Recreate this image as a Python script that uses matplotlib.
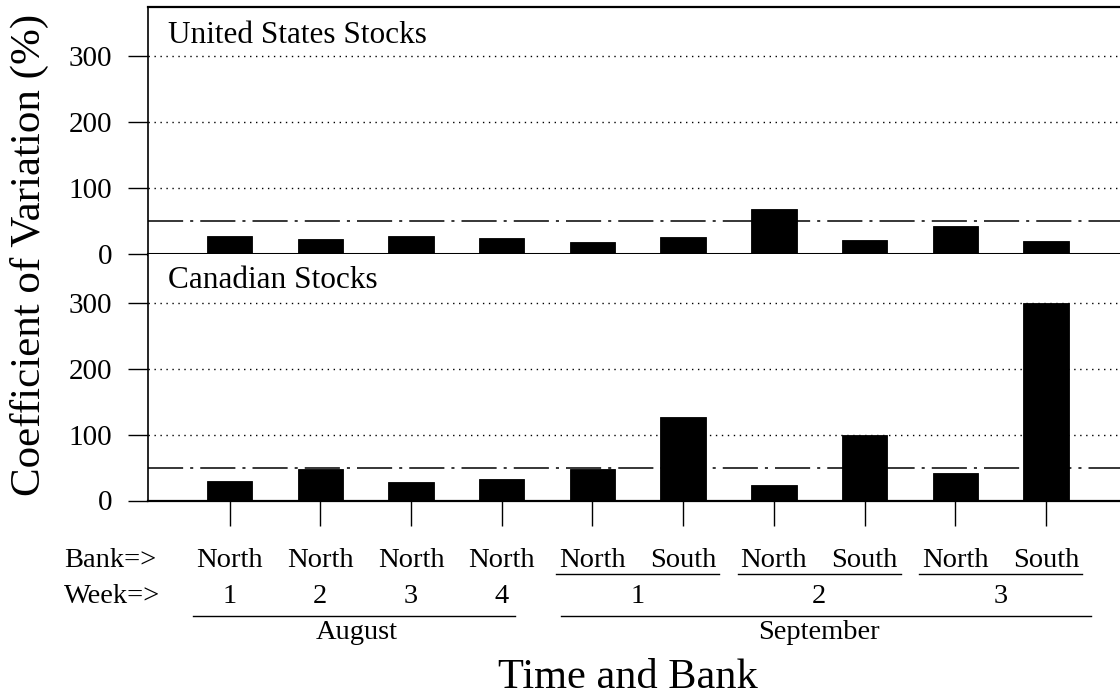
import matplotlib
matplotlib.use("Agg")
import matplotlib.pyplot as plt
from matplotlib.transforms import blended_transform_factory

plt.rcParams['font.family'] = ['Liberation Serif', 'DejaVu Serif']

# Coefficient of variation (%) for each sampling period / bank
positions = [1, 2, 3, 4, 5, 6, 7, 8, 9, 10]
us_cv = [27, 23, 27, 25, 18, 26, 68, 22, 43, 20]
canada_cv = [30, 48, 28, 33, 48, 127, 23, 100, 42, 300]
panel_titles = ["United States Stocks", "Canadian Stocks"]
y_ticks = [0, 100, 200, 300]
grid_levels = [100, 200, 300]
reference_level = 50

bank_labels = ["North", "North", "North", "North",
               "North", "South", "North", "South", "North", "South"]
week_labels = ["1", "2", "3", "4", "1", "2", "3"]
week_positions = [1, 2, 3, 4, 5.5, 7.5, 9.5]
pair_spans = [(4.6, 6.4), (6.6, 8.4), (8.6, 10.4)]
month_labels = ["August", "September"]
month_label_positions = [2.4, 7.5]
month_spans = [(0.6, 4.15), (4.65, 10.5)]

W, H = 1120, 698
fig = plt.figure(figsize=(W / 100, H / 100), dpi=100)

left_px, right_px = 148, 1142
x_lim = (0.1, 0.1 + (right_px - left_px) / 90.7)


def fy(px):
    """Convert a pixel row (from the top) to a figure fraction."""
    return 1 - px / H


ax_top = fig.add_axes([left_px / W, fy(254), (right_px - left_px) / W, 247 / H])
ax_bot = fig.add_axes([left_px / W, fy(500.5), (right_px - left_px) / W, 246.5 / H])

dashdot = (0, (23, 4.6, 2, 4.6))
dotted = (0, (1, 3.3))

for ax, vals in [(ax_top, us_cv), (ax_bot, canada_cv)]:
    ax.set_xlim(*x_lim)
    ax.set_ylim(0, 375)
    for g in grid_levels:
        ax.axhline(g, color='black', lw=1.0, linestyle=dotted, zorder=1)
    ax.axhline(reference_level, color='black', lw=1.1, linestyle=dashdot, zorder=1)
    ax.bar(positions, vals, width=0.5, color='black', edgecolor='black',
           linewidth=0.6, zorder=2)
    ax.set_yticks(y_ticks)
    ax.set_yticklabels([str(t) for t in y_ticks])
    ax.tick_params(axis='y', length=14.4, width=1.0, pad=11.5, labelsize=21,
                   direction='out')
    ax.spines['right'].set_visible(False)
    ax.spines['left'].set_linewidth(1.2)

# panel titles
fig.text(168 / W, fy(43), panel_titles[0], fontsize=22.5, ha='left', va='baseline')
fig.text(168 / W, fy(288), panel_titles[1], fontsize=22.5, ha='left', va='baseline')

ax_top.set_xticks([])
ax_top.spines['top'].set_linewidth(1.6)
ax_top.spines['bottom'].set_linewidth(2.2)
ax_bot.spines['top'].set_visible(False)
ax_bot.spines['bottom'].set_linewidth(1.6)
ax_bot.set_xticks(positions)
ax_bot.set_xticklabels([])
ax_bot.tick_params(axis='x', length=18, width=1.0, direction='out')

# hierarchical category labels under the lower panel
tr = blended_transform_factory(ax_bot.transData, fig.transFigure)
lab_size = 20.5
fig.text(64 / W, fy(567), "Bank=>", fontsize=lab_size, ha='left', va='baseline')
fig.text(64 / W, fy(603), "Week=>", fontsize=lab_size, ha='left', va='baseline')
for x, lab in zip(positions, bank_labels):
    ax_bot.text(x, fy(567), lab, transform=tr, fontsize=lab_size,
                ha='center', va='baseline', clip_on=False)
for x0, x1 in pair_spans:
    ax_bot.plot([x0, x1], [fy(574), fy(574)], transform=tr, color='black',
                lw=1.0, clip_on=False)
for x, lab in zip(week_positions, week_labels):
    ax_bot.text(x, fy(603), lab, transform=tr, fontsize=lab_size,
                ha='center', va='baseline', clip_on=False)
for (x0, x1), x, lab in zip(month_spans, month_label_positions, month_labels):
    ax_bot.plot([x0, x1], [fy(615.5), fy(615.5)], transform=tr, color='black',
                lw=1.0, clip_on=False)
    ax_bot.text(x, fy(639), lab, transform=tr, fontsize=lab_size,
                ha='center', va='baseline', clip_on=False)

fig.text(29 / W, fy(255), "Coefficient of Variation (%)", fontsize=31,
         rotation=90, ha='center', va='center')
fig.text(628 / W, fy(688), "Time and Bank", fontsize=30.5,
         ha='center', va='baseline')

fig.savefig("out.png", dpi=100)
